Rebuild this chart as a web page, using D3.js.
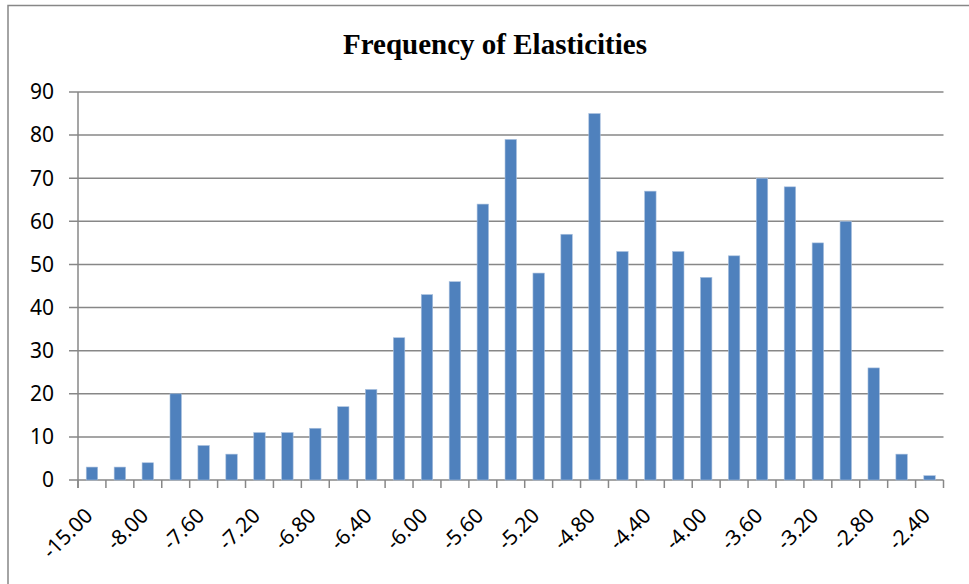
<!DOCTYPE html>
<html>
<head>
<meta charset="utf-8">
<script src="https://cdn.jsdelivr.net/npm/d3@7"></script>
<style>
  body { margin: 0; background: #fff; }
</style>
</head>
<body>
<div id="chart"></div>
<script>
const categories = ["-15.00", "-8.20", "-8.00", "-7.80", "-7.60", "-7.40", "-7.20", "-7.00",
  "-6.80", "-6.60", "-6.40", "-6.20", "-6.00", "-5.80", "-5.60", "-5.40", "-5.20", "-5.00",
  "-4.80", "-4.60", "-4.40", "-4.20", "-4.00", "-3.80", "-3.60", "-3.40", "-3.20", "-3.00",
  "-2.80", "-2.60", "-2.40"];
const counts = [3, 3, 4, 20, 8, 6, 11, 11, 12, 17, 21, 33, 43, 46, 64, 79, 48, 57,
  85, 53, 67, 53, 47, 52, 70, 68, 55, 60, 26, 6, 1];
const yTicks = [0, 10, 20, 30, 40, 50, 60, 70, 80, 90];
const title = "Frequency of Elasticities";

const width = 969, height = 584;
const margin = {top: 92, right: 26, bottom: 104, left: 78};
const gray = "#878787";

const svg = d3.select("#chart").append("svg")
    .attr("width", width)
    .attr("height", height);

// chart frame
svg.append("path")
    .attr("d", `M8,${height + 5} V5.5 H${width + 5}`)
    .attr("fill", "none")
    .attr("stroke", gray)
    .attr("stroke-width", 1.5);

svg.append("text")
    .attr("x", 495)
    .attr("y", 54)
    .attr("text-anchor", "middle")
    .style("font-family", "'Liberation Serif', 'Times New Roman', serif")
    .style("font-weight", "bold")
    .style("font-size", "29px")
    .text(title);

const x = d3.scaleBand()
    .domain(categories)
    .range([margin.left, width - margin.right + 0.5])
    .paddingInner(0.59)
    .paddingOuter(0.295);

const y = d3.scaleLinear()
    .domain([0, 90])
    .range([height - margin.bottom, margin.top]);

const x0 = margin.left, x1 = width - margin.right + 0.5;

// gridlines with left ticks
svg.append("g")
    .selectAll("line")
    .data(yTicks)
    .join("line")
    .attr("x1", x0 - 9)
    .attr("x2", x1)
    .attr("y1", d => y(d))
    .attr("y2", d => y(d))
    .attr("stroke", gray)
    .attr("stroke-width", 1.5);

// y axis line
svg.append("line")
    .attr("x1", x0).attr("x2", x0)
    .attr("y1", y(90)).attr("y2", y(0) + 8)
    .attr("stroke", gray)
    .attr("stroke-width", 1.5);

// x ticks at category boundaries
const step = x.step();
svg.append("g")
    .selectAll("line")
    .data(d3.range(categories.length + 1))
    .join("line")
    .attr("x1", i => x0 + i * step)
    .attr("x2", i => x0 + i * step)
    .attr("y1", y(0))
    .attr("y2", y(0) + 8)
    .attr("stroke", gray)
    .attr("stroke-width", 1.5);

// y labels
svg.append("g")
    .selectAll("text")
    .data(yTicks)
    .join("text")
    .attr("x", 54)
    .attr("y", d => y(d))
    .attr("dy", "0.35em")
    .attr("text-anchor", "end")
    .style("font-family", "'Noto Sans', sans-serif")
    .style("font-size", "21px")
    .text(d => d);

// bars
svg.append("g")
    .selectAll("rect")
    .data(counts)
    .join("rect")
    .attr("x", (d, i) => x(categories[i]))
    .attr("y", d => y(d))
    .attr("width", x.bandwidth())
    .attr("height", d => y(0) - y(d))
    .attr("fill", "#4f81bd")
    .attr("stroke", "#a9c0de")
    .attr("stroke-width", 0.6);

// x labels, every other category
svg.append("g")
    .selectAll("text")
    .data(categories.filter((c, i) => i % 2 === 0))
    .join("text")
    .attr("transform", d => `translate(${x(d) + x.bandwidth() / 2 + 2},${y(0) + 37}) rotate(-45)`)
    .attr("text-anchor", "end")
    .style("font-family", "'Noto Sans', sans-serif")
    .style("font-size", "21px")
    .text(d => d);
</script>
</body>
</html>
